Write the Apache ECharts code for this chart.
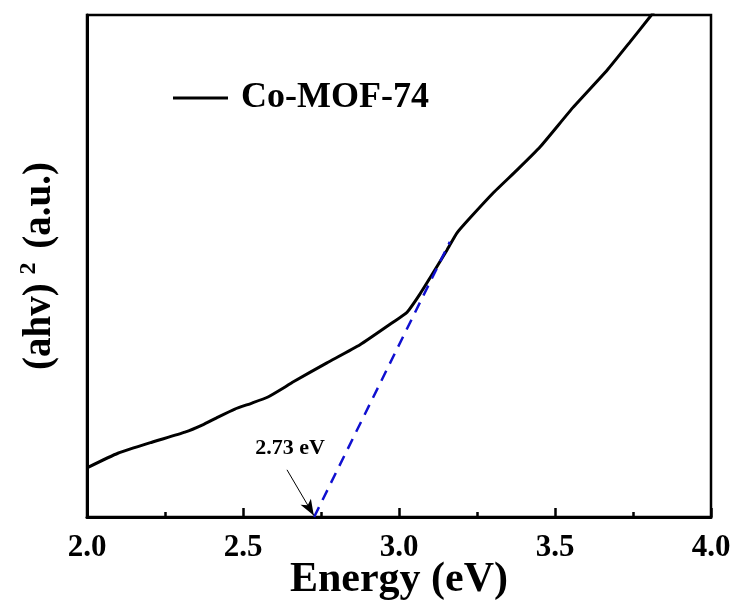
<!DOCTYPE html>
<html>
<head>
<meta charset="utf-8">
<script src="https://cdn.jsdelivr.net/npm/echarts@6/dist/echarts.min.js"></script>
<style>html,body{margin:0;padding:0;background:#fff}#c{width:737px;height:608px}</style>
</head>
<body>
<div id="c"></div>
<script>
// Energy (eV) values and (ahv)^2 intensity (a.u., 0-100 scale)
var energy = [2.000, 2.099, 2.208, 2.314, 2.369, 2.420, 2.474, 2.529, 2.580, 2.635, 2.660, 2.769, 2.875, 2.981, 3.026, 3.067, 3.109, 3.154, 3.186, 3.228, 3.301, 3.378, 3.452, 3.558, 3.667, 3.740, 3.804, 3.822];
var intensity = [9.8, 12.7, 14.9, 16.9, 18.3, 19.9, 21.5, 22.7, 23.9, 25.9, 26.9, 30.7, 34.3, 38.8, 40.8, 44.4, 48.6, 53.2, 56.6, 59.6, 64.5, 69.1, 73.7, 81.6, 89.0, 94.6, 99.6, 101.0];
var fitX = [2.728, 3.163];
var fitY = [0, 54.8];
var gapLabel = '2.73 eV';
var labelPos = [2.651, 13.6];
var arrowFrom = [2.641, 9.4];
var arrowTo = [2.727, 0.3];
var xTicks = [2.0, 2.5, 3.0, 3.5, 4.0];

var FONT = '"Liberation Serif","Times New Roman",serif';
var chart = echarts.init(document.getElementById('c'));
var curve = energy.map(function (x, i) { return [x, intensity[i]]; });
var fit = fitX.map(function (x, i) { return [x, fitY[i]]; });

chart.setOption({
  animation: false,
  backgroundColor: '#fff',
  grid: { left: 87, right: 26, top: 15, bottom: 91, show: true, borderColor: '#000', borderWidth: 2.5, containLabel: false, outerBoundsMode: 'none' },
  legend: {
    left: 173, top: 78, padding: 0,
    itemWidth: 55, itemHeight: 3, itemGap: 0,
    data: [{ name: 'Co-MOF-74', icon: 'rect' }],
    textStyle: { fontFamily: FONT, fontWeight: 'bold', fontSize: 36, color: '#000', lineHeight: 40, padding: [0, 0, 0, 8] }
  },
  xAxis: {
    type: 'value', min: 2, max: 4, interval: 0.5,
    name: 'Energy (eV)', nameLocation: 'middle', nameGap: 42, nameMoveOverlap: false,
    nameTextStyle: { fontFamily: FONT, fontWeight: 'bold', fontSize: 42, color: '#000' },
    axisLine: { show: true, lineStyle: { color: '#000', width: 3 } },
    axisTick: { show: true, inside: true, length: 9, lineStyle: { color: '#000', width: 2.5 } },
    minorTick: { show: true, splitNumber: 2, length: 5, lineStyle: { color: '#000', width: 2.5 } },
    splitLine: { show: false },
    axisLabel: {
      margin: 15, fontFamily: FONT, fontWeight: 'bold', fontSize: 31, color: '#000',
      formatter: function (v) { return xTicks.indexOf(v) >= 0 ? v.toFixed(1) : ''; }
    }
  },
  yAxis: {
    type: 'value', min: 0, max: 100,
    name: '{m|(ahv)}{s|2}{m| (a.u.)}', nameLocation: 'middle', nameGap: 24, nameMoveOverlap: false,
    nameTextStyle: {
      fontFamily: FONT, fontWeight: 'bold', fontSize: 39, color: '#000',
      rich: {
        m: { fontFamily: FONT, fontWeight: 'bold', fontSize: 39, color: '#000', lineHeight: 46 },
        s: { fontFamily: FONT, fontWeight: 'bold', fontSize: 24, color: '#000', lineHeight: 46, verticalAlign: 'top', padding: [0, 4, 14, 9] }
      }
    },
    axisLine: { show: true, lineStyle: { color: '#000', width: 3 } },
    axisTick: { show: false },
    axisLabel: { show: false },
    splitLine: { show: false }
  },
  series: [
    {
      name: 'Co-MOF-74', type: 'line', data: curve, symbol: 'none', smooth: 0.15,
      lineStyle: { color: '#000', width: 3 }, itemStyle: { color: '#000' }
    },
    {
      name: 'fit', type: 'line', data: fit, symbol: 'none',
      lineStyle: { color: '#1010d0', width: 2.5, type: [11, 8] },
      markLine: {
        silent: true, symbol: ['none', 'arrow'], symbolSize: [9, 16],
        label: { show: false },
        lineStyle: { color: '#000', width: 1, type: 'solid' },
        data: [[{ coord: arrowFrom }, { coord: arrowTo }]]
      }
    },
    {
      name: 'label', type: 'scatter', data: [labelPos], symbolSize: 0,
      itemStyle: { opacity: 1 },
      label: { show: true, position: 'inside', formatter: gapLabel, fontFamily: FONT, fontWeight: 'bold', fontSize: 22, color: '#000' }
    }
  ]
});
</script>
</body>
</html>
